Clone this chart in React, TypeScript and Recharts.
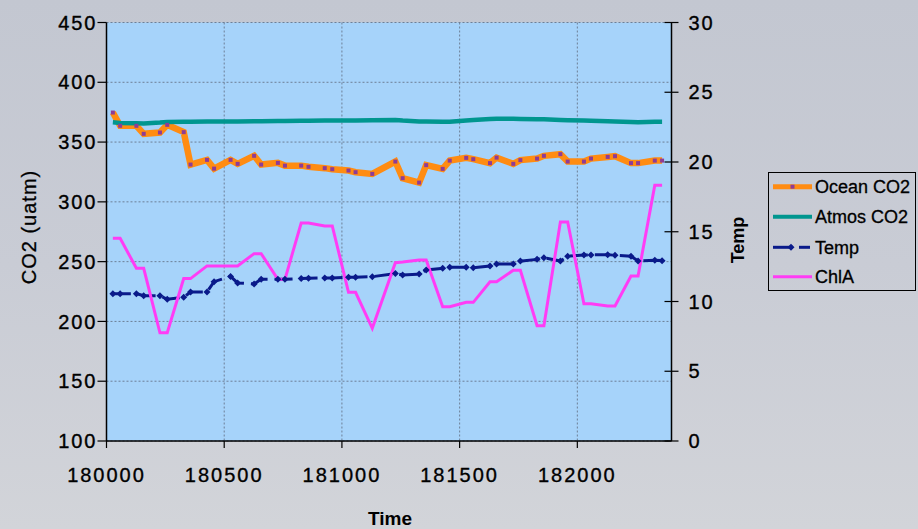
import React from "react";
import { ComposedChart, Line, XAxis, YAxis, CartesianGrid } from "recharts";

const xValues = [
  180027, 180058, 180127, 180158, 180227, 180258, 180328, 180357, 180427, 180457,
  180527, 180557, 180627, 180657, 180728, 180758, 180827, 180858, 180927, 180959,
  181028, 181058, 181129, 181227, 181258, 181328, 181358, 181428, 181458, 181528,
  181558, 181629, 181657, 181728, 181758, 181829, 181858, 181928, 181959, 182028,
  182058, 182129, 182160, 182228, 182258, 182329, 182360,
];
const oceanCO2 = [
  374.7, 363.6, 363.6, 356.9, 358, 364.4, 358.3, 331.2, 335.1, 327.8,
  335.1, 331.8, 338.5, 331.2, 332.6, 330.3, 330.3, 329.3, 328.2, 327.3,
  326.2, 324.8, 323.4, 333.7, 319.8, 316.1, 330.7, 327.6, 334.5, 336.8,
  335.7, 332.4, 337, 331.8, 334.9, 336.2, 338.5, 339.9, 333.7, 333.7,
  336.2, 337.6, 338.2, 332.4, 332.4, 334.5, 334.5,
];
const atmosCO2 = [
  366.5, 366, 365.8, 365.6, 366.3, 366.8, 367, 367, 367.2, 367.2,
  367.3, 367.3, 367.4, 367.5, 367.6, 367.6, 367.8, 367.8, 368, 368,
  368, 368, 368.2, 368.5, 368, 367.3, 367.3, 367, 367, 368,
  368.5, 369.3, 369.5, 369.5, 369.3, 369, 369, 368.5, 368.3, 368,
  367.8, 367.5, 367.3, 366.8, 366.5, 367, 367,
];
const temp = [
  10.56, 10.56, 10.56, 10.42, 10.42, 10.16, 10.3, 10.68, 10.68, 11.42,
  11.8, 11.33, 11.26, 11.59, 11.59, 11.59, 11.64, 11.66, 11.69, 11.69,
  11.74, 11.74, 11.78, 12.0, 11.9, 11.97, 12.26, 12.38, 12.45, 12.45,
  12.42, 12.55, 12.69, 12.69, 12.9, 13.02, 13.14, 12.9, 13.24, 13.34,
  13.34, 13.36, 13.31, 13.24, 12.9, 12.95, 12.93,
];
const chlA = [
  14.53, 14.53, 12.38, 12.38, 7.76, 7.76, 11.64, 11.64, 12.55, 12.55,
  12.55, 12.55, 13.43, 13.43, 11.59, 11.59, 15.63, 15.63, 15.42, 15.42,
  10.66, 10.66, 8.08, 12.78, 12.83, 12.97, 12.97, 9.63, 9.63, 9.94,
  9.94, 11.42, 11.42, 12.24, 12.24, 8.26, 8.26, 15.7, 15.7, 9.84,
  9.84, 9.68, 9.68, 11.83, 11.83, 18.34, 18.34,
];
const xTicks = [180000, 180500, 181000, 181500, 182000];
const co2Ticks = [100, 150, 200, 250, 300, 350, 400, 450];
const tempTicks = [0, 5, 10, 15, 20, 25, 30];

const data = xValues.map((x, i) => ({
  x,
  ocean: oceanCO2[i],
  atmos: atmosCO2[i],
  temp: temp[i],
  chla: chlA[i],
}));

const FONT = "'Liberation Sans', Arial, Helvetica, sans-serif";
const ORANGE = "#ff8c12";
const PURPLE = "#8e3c96";
const TEAL = "#00968f";
const NAVY = "#0a1a8a";
const PINK = "#ff3cf5";

const tickStyle = {
  fontFamily: FONT,
  fontSize: 20,
  fill: "#000",
  letterSpacing: 2,
  stroke: "#000",
  strokeWidth: 0.35,
};
const textStyle = { fontFamily: FONT, fontSize: 18, fill: "#000", stroke: "#000", strokeWidth: 0.3 };

const OceanDot = (p: any) => {
  const { cx, cy, index } = p;
  if (cx == null || cy == null) return <g key={`o${index}`} />;
  return <rect key={`o${index}`} x={cx - 2} y={cy - 2} width={4} height={4} fill={PURPLE} />;
};
const TempDot = (p: any) => {
  const { cx, cy, index } = p;
  if (cx == null || cy == null) return <g key={`t${index}`} />;
  return (
    <path
      key={`t${index}`}
      d={`M${cx},${cy - 3.5}L${cx + 3.5},${cy}L${cx},${cy + 3.5}L${cx - 3.5},${cy}Z`}
      fill={NAVY}
    />
  );
};

const RightTick = (p: any) => {
  const { x, y, payload } = p;
  return (
    <g>
      <line x1={x - 24} x2={x - 10} y1={y} y2={y} stroke="#000" strokeWidth={1.2} />
      <text x={x} y={y} dy="0.36em" textAnchor="start" style={tickStyle}>
        {payload.value}
      </text>
    </g>
  );
};

export default function App() {
  return (
    <div
      style={{
        position: "absolute",
        left: 0,
        top: 0,
        width: 918,
        height: 529,
        background: "linear-gradient(180deg, #c3c7d1 0%, #c9ccd5 50%, #d2d4d9 100%)",
        overflow: "hidden",
      }}
    >
      <ComposedChart
        width={918}
        height={529}
        data={data}
        margin={{ top: 22.5, right: 0, left: 0.5, bottom: 0 }}
      >
        <CartesianGrid
          yAxisId="left"
          fill="#a6d3fa"
          fillOpacity={1}
          stroke="#6d7f96"
          strokeDasharray="2 2"
          strokeWidth={1}
        />
        <XAxis
          dataKey="x"
          type="number"
          domain={[180000, 182400]}
          ticks={xTicks}
          allowDataOverflow
          height={88}
          tickSize={7}
          tickMargin={20}
          axisLine={{ stroke: "#000", strokeWidth: 1.5 }}
          tickLine={{ stroke: "#000", strokeWidth: 1.2 }}
          tick={tickStyle}
        />
        <YAxis
          yAxisId="left"
          orientation="left"
          domain={[100, 450]}
          ticks={co2Ticks}
          allowDataOverflow
          width={106}
          tickSize={9}
          tickMargin={0}
          axisLine={{ stroke: "#000", strokeWidth: 1.5 }}
          tickLine={{ stroke: "#000", strokeWidth: 1.2 }}
          tick={tickStyle}
        />
        <YAxis
          yAxisId="right"
          orientation="right"
          domain={[0, 30]}
          ticks={tempTicks}
          allowDataOverflow
          width={246.5}
          tickSize={7}
          tickMargin={10}
          axisLine={{ stroke: "#000", strokeWidth: 1.5 }}
          tickLine={false}
          tick={<RightTick />}
        />
        <Line
          yAxisId="left"
          dataKey="ocean"
          type="linear"
          stroke={ORANGE}
          strokeWidth={6.5}
          strokeLinejoin="miter"
          dot={OceanDot}
          activeDot={false}
          isAnimationActive={false}
        />
        <Line
          yAxisId="left"
          dataKey="atmos"
          type="linear"
          stroke={TEAL}
          strokeWidth={4.5}
          dot={false}
          activeDot={false}
          isAnimationActive={false}
        />
        <Line
          yAxisId="right"
          dataKey="temp"
          type="linear"
          stroke={NAVY}
          strokeWidth={3}
          strokeDasharray="18 7"
          dot={TempDot}
          activeDot={false}
          isAnimationActive={false}
        />
        <Line
          yAxisId="right"
          dataKey="chla"
          type="linear"
          stroke={PINK}
          strokeWidth={3}
          strokeLinejoin="miter"
          dot={false}
          activeDot={false}
          isAnimationActive={false}
        />
      </ComposedChart>
      <svg
        width={918}
        height={529}
        style={{ position: "absolute", left: 0, top: 0, pointerEvents: "none" }}
      >
        <text
          transform="translate(36,227) rotate(-90)"
          textAnchor="middle"
          style={{ ...textStyle, fontSize: 20, letterSpacing: 1 }}
        >
          CO2 (uatm)
        </text>
        <text
          transform="translate(744,240) rotate(-90)"
          textAnchor="middle"
          style={{ fontFamily: FONT, fontSize: 18, fontWeight: 700, fill: "#000" }}
        >
          Temp
        </text>
        <text
          x={390}
          y={525}
          textAnchor="middle"
          style={{ fontFamily: FONT, fontSize: 19, fontWeight: 700, fill: "#000" }}
        >
          Time
        </text>
        <g>
          <rect x={768.5} y={172.5} width={147} height={118} fill="none" stroke="#000" strokeWidth={1} />
          <line x1={773} x2={812} y1={186.7} y2={186.7} stroke={ORANGE} strokeWidth={5} />
          <rect x={790.5} y={184.7} width={4} height={4} fill={PURPLE} />
          <text x={815} y={193} style={textStyle}>Ocean CO2</text>
          <line x1={773} x2={812} y1={216.7} y2={216.7} stroke={TEAL} strokeWidth={4} />
          <text x={815} y={223} style={textStyle}>Atmos CO2</text>
          <line x1={773} x2={793} y1={247.3} y2={247.3} stroke={NAVY} strokeWidth={3} />
          <line x1={799} x2={810} y1={247.3} y2={247.3} stroke={NAVY} strokeWidth={3} />
          <path d="M791,243.8L794.5,247.3L791,250.8L787.5,247.3Z" fill={NAVY} />
          <text x={815} y={253.6} style={textStyle}>Temp</text>
          <line x1={773} x2={812} y1={276.7} y2={276.7} stroke={PINK} strokeWidth={3} />
          <text x={815} y={283} style={textStyle}>ChlA</text>
        </g>
      </svg>
    </div>
  );
}
